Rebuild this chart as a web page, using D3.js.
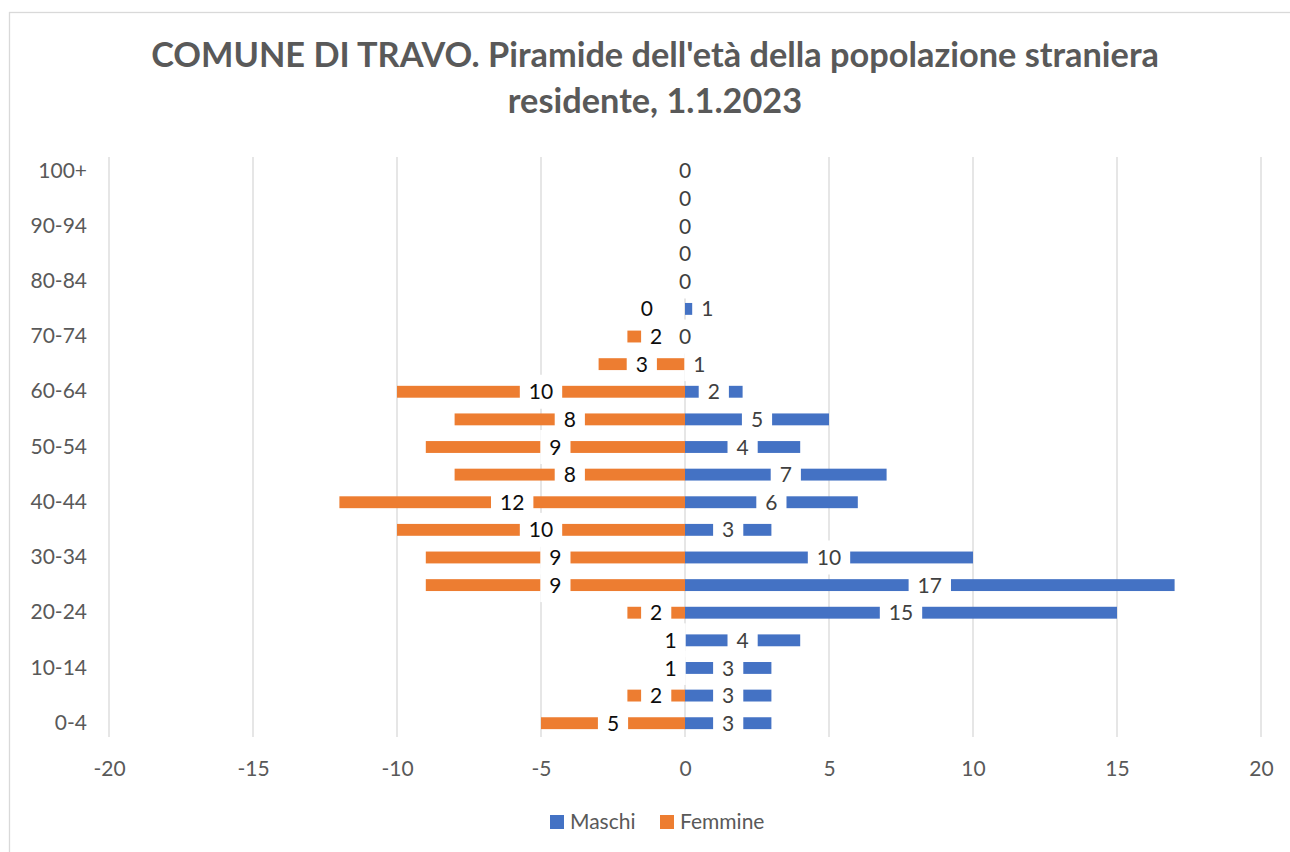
<!DOCTYPE html>
<html>
<head>
<meta charset="utf-8">
<script src="https://cdn.jsdelivr.net/npm/d3@7"></script>
<style>
  body { margin: 0; background: #fff; }
  text { font-family: Lato, "Open Sans", sans-serif; }
</style>
</head>
<body>
<div id="chart"></div>
<script>
  const width = 1290;
  const height = 852;
  const margin = { top: 157, bottom: 115, left: 109, right: 29 };
  const fontSize = 21;

  // age groups, bottom to top
  const ageGroups = ['0-4', '5-9', '10-14', '15-19', '20-24', '25-29', '30-34', '35-39', '40-44',
    '45-49', '50-54', '55-59', '60-64', '65-69', '70-74', '75-79', '80-84', '85-89', '90-94',
    '95-99', '100+'];
  const maschi = [3, 3, 3, 4, 15, 17, 10, 3, 6, 7, 4, 5, 2, 1, 0, 1, 0, 0, 0, 0, 0];
  const femmine = [5, 2, 1, 1, 2, 9, 9, 10, 12, 8, 9, 8, 10, 3, 2, 0, 0, 0, 0, 0, 0];
  const xTicks = [-20, -15, -10, -5, 0, 5, 10, 15, 20];
  const seriesNames = ['Maschi', 'Femmine'];
  const colors = ['#4472C4', '#ED7D31'];
  const titleLines = ["COMUNE DI TRAVO. Piramide dell'età della popolazione straniera", 'residente, 1.1.2023'];

  const svg = d3.select('#chart')
    .append('svg')
    .attr('width', width)
    .attr('height', height);

  // chart border
  svg.append('rect')
    .attr('x', 9.5).attr('y', 12.5)
    .attr('width', 1300).attr('height', 850)
    .attr('fill', '#fff')
    .attr('stroke', '#D9D9D9')
    .attr('stroke-width', 1.3);

  // scales
  const x = d3.scaleLinear()
    .domain([-20, 20])
    .range([margin.left, width - margin.right]);

  const y = d3.scaleBand()
    .domain(ageGroups)
    .range([height - margin.bottom, margin.top])
    .paddingInner(0.57)
    .paddingOuter(0.285);

  // title
  const title = svg.append('g')
    .attr('fill', '#595959')
    .attr('font-weight', 700)
    .attr('text-anchor', 'middle');
  const t1 = title.append('text')
    .attr('x', 655).attr('y', 67)
    .style('font-size', '33px')
    .text(titleLines[0]);
  const titleSize = 33 * 1008 / t1.node().getComputedTextLength();
  t1.style('font-size', titleSize + 'px');
  title.append('text')
    .attr('x', 655).attr('y', 113)
    .style('font-size', titleSize + 'px')
    .text(titleLines[1]);

  // gridlines
  svg.append('g')
    .selectAll('line')
    .data(xTicks)
    .join('line')
    .attr('x1', d => x(d)).attr('x2', d => x(d))
    .attr('y1', margin.top).attr('y2', height - margin.bottom)
    .attr('stroke', '#D9D9D9')
    .attr('stroke-width', 1.3);

  // X axis
  svg.append('g')
    .attr('transform', `translate(0,${height - margin.bottom})`)
    .call(d3.axisBottom(x).tickValues(xTicks).tickFormat(d => String(d)).tickSize(0).tickPadding(24))
    .call(g => g.select('.domain').remove())
    .selectAll('text')
    .attr('font-size', fontSize + 'px')
    .attr('font-family', 'Lato, sans-serif')
    .attr('fill', '#595959');

  // Y axis
  svg.append('g')
    .attr('transform', `translate(${margin.left - 22},0)`)
    .call(d3.axisLeft(y).tickValues(ageGroups.filter((d, i) => i % 2 === 0)).tickSize(0).tickPadding(0))
    .call(g => g.select('.domain').remove())
    .selectAll('text')
    .attr('font-size', fontSize + 'px')
    .attr('font-family', 'Lato, sans-serif')
    .attr('fill', '#595959');

  const rows = ageGroups.map((age, i) => ({ age, m: maschi[i], f: femmine[i] }));

  // bars
  svg.append('g')
    .selectAll('rect')
    .data(rows)
    .join('rect')
    .attr('x', d => x(-d.f))
    .attr('y', d => y(d.age))
    .attr('width', d => x(0) - x(-d.f))
    .attr('height', y.bandwidth())
    .attr('fill', colors[1]);

  svg.append('g')
    .selectAll('rect')
    .data(rows)
    .join('rect')
    .attr('x', x(0))
    .attr('y', d => y(d.age))
    .attr('width', d => x(d.m) - x(0))
    .attr('height', y.bandwidth())
    .attr('fill', colors[0]);

  // data labels with white boxes, centred on bars
  const labels = [];
  rows.forEach(d => {
    labels.push({ age: d.age, v: d.f, cx: (x(-d.f) + x(0)) / 2, color: '#0D0D0D' });
    labels.push({ age: d.age, v: d.m, cx: (x(d.m) + x(0)) / 2, color: '#404040' });
  });

  const labelLayer = svg.append('g');
  const measure = labelLayer.append('text').style('font-size', fontSize + 'px');
  labels.forEach(l => {
    measure.text(l.v);
    l.w = measure.node().getComputedTextLength() + 18;
  });
  measure.remove();

  // push apart labels that collide in the same row (not when both are zero)
  ageGroups.forEach(age => {
    const [lf, lm] = labels.filter(l => l.age === age);
    if (lf.v === 0 && lm.v === 0) return;
    const overlap = (lf.cx + lf.w / 2) - (lm.cx - lm.w / 2);
    if (overlap > 5) {
      lm.cx += overlap / 2;
      lf.cx -= overlap / 2 + lf.w;
    }
  });

  const lab = labelLayer.selectAll('g')
    .data(labels)
    .join('g')
    .attr('transform', d => `translate(${d.cx},${y(d.age) + y.bandwidth() / 2})`);
  lab.append('rect')
    .attr('x', d => -d.w / 2)
    .attr('y', -17)
    .attr('width', d => d.w)
    .attr('height', 34)
    .attr('fill', '#fff');
  lab.append('text')
    .attr('text-anchor', 'middle')
    .attr('dy', '0.36em')
    .style('font-size', fontSize + 'px')
    .attr('fill', d => d.color)
    .text(d => d.v);

  // legend
  const legend = svg.append('g')
    .selectAll('g')
    .data(seriesNames)
    .join('g')
    .attr('transform', (d, i) => `translate(${[550, 660][i]},815)`);
  legend.append('rect')
    .attr('width', 14).attr('height', 14)
    .attr('fill', (d, i) => colors[i]);
  legend.append('text')
    .attr('x', 20).attr('y', 14)
    .style('font-size', fontSize + 'px')
    .attr('fill', '#595959')
    .text(d => d);
</script>
</body>
</html>
